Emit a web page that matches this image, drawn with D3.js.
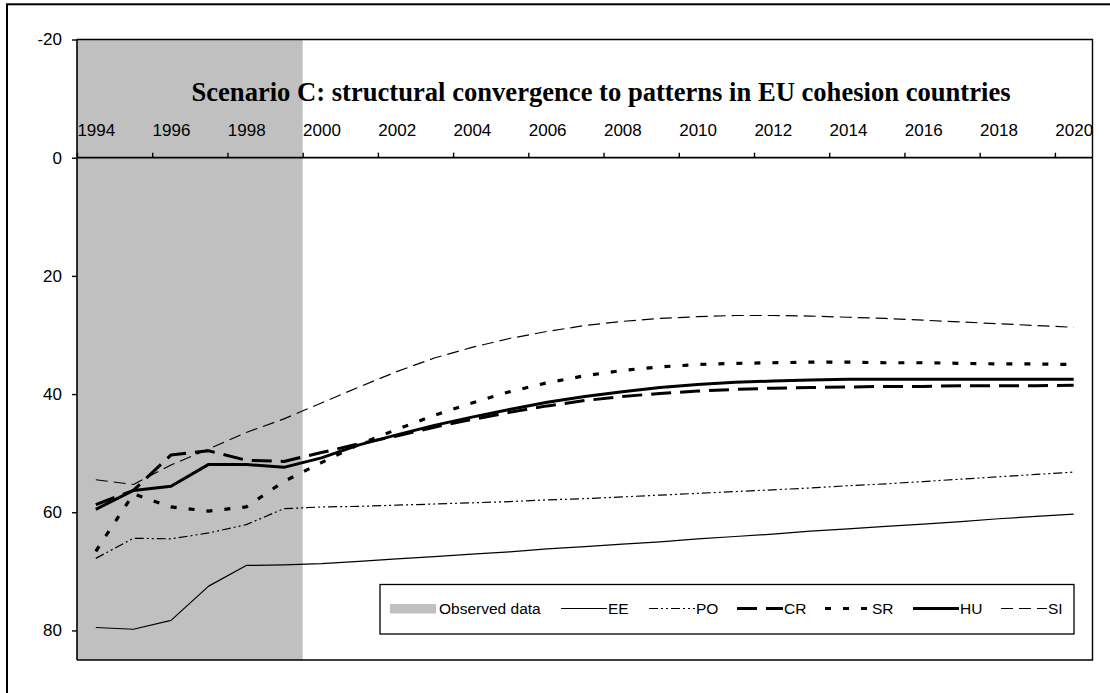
<!DOCTYPE html>
<html>
<head>
<meta charset="utf-8">
<script src="https://cdn.jsdelivr.net/npm/d3@7"></script>
<style>
  html, body { margin: 0; padding: 0; background: #fff; }
  svg { display: block; }
  text { font-family: "Liberation Sans", Arial, sans-serif; fill: #000; }
</style>
</head>
<body>
<svg id="chart" width="1110" height="693"></svg>
<script>
// ---------------- data ----------------
const years = d3.range(1994, 2021);
const observedYears = [1994, 1995, 1996, 1997, 1998, 1999];
const xTickYears = [1994, 1996, 1998, 2000, 2002, 2004, 2006, 2008, 2010, 2012, 2014, 2016, 2018, 2020];
const yTicks = [-20, 0, 20, 40, 60, 80];
const title = "Scenario C: structural convergence to patterns in EU cohesion countries";
const seriesNames = ["EE", "PO", "CR", "SR", "HU", "SI"];

const EE = [79.5, 79.8, 78.3, 72.5, 69.0, 68.9, 68.7, 68.3, 67.9, 67.5, 67.1, 66.7, 66.2, 65.8, 65.4, 65.0, 64.5, 64.1, 63.7, 63.2, 62.8, 62.4, 62.0, 61.6, 61.1, 60.7, 60.3];
const PO = [67.8, 64.4, 64.5, 63.5, 62.1, 59.4, 59.1, 59.0, 58.8, 58.6, 58.4, 58.2, 57.9, 57.7, 57.4, 57.1, 56.8, 56.5, 56.2, 55.9, 55.5, 55.2, 54.8, 54.4, 54.0, 53.6, 53.2];
const CR = [58.7, 56.3, 50.3, 49.6, 51.2, 51.4, 49.9, 48.4, 47.1, 45.6, 44.3, 43.1, 42.0, 41.1, 40.4, 39.9, 39.5, 39.2, 39.0, 38.9, 38.8, 38.7, 38.7, 38.6, 38.6, 38.6, 38.5];
const SR = [66.6, 56.9, 59.1, 59.8, 59.1, 54.8, 51.6, 48.5, 46.0, 43.6, 41.5, 39.6, 38.1, 36.9, 36.0, 35.4, 35.0, 34.8, 34.7, 34.6, 34.6, 34.7, 34.7, 34.8, 34.9, 34.9, 35.0];
const HU = [59.5, 56.3, 55.6, 51.9, 51.9, 52.4, 50.8, 48.6, 46.9, 45.3, 43.9, 42.6, 41.4, 40.4, 39.6, 38.9, 38.4, 38.0, 37.8, 37.6, 37.5, 37.5, 37.5, 37.5, 37.5, 37.5, 37.5];
const SI = [54.5, 55.3, 52.0, 49.3, 46.5, 44.2, 41.5, 38.8, 36.2, 33.9, 32.1, 30.6, 29.4, 28.4, 27.7, 27.2, 26.9, 26.7, 26.7, 26.8, 27.0, 27.2, 27.5, 27.8, 28.1, 28.4, 28.7];

const seriesValues = [EE, PO, CR, SR, HU, SI];

// ---------------- styles ----------------
const styles = {
  EE: { w: 1.2, dash: null },
  PO: { w: 1.2, dash: "9,3,2,3,2,3" },
  CR: { w: 3, dash: "20,9" },
  SR: { w: 3.2, dash: "6,12" },
  HU: { w: 3, dash: null },
  SI: { w: 1.2, dash: "12,6" }
};

// ---------------- layout ----------------
const svg = d3.select("#chart");
const plot = { left: 77, right: 1092.5, top: 39.5, bottom: 660 };

const x = d3.scaleLinear().domain([years[0], years[years.length - 1] + 1]).range([plot.left, plot.right]);
const xc = yr => x(yr + 0.5);
const y = d3.scaleLinear().domain([-20, 85]).range([plot.top, plot.bottom]);

// outer frame
svg.append("rect").attr("x", 7).attr("y", 4.3).attr("width", 1200).attr("height", 800)
  .attr("fill", "none").attr("stroke", "#000").attr("stroke-width", 2);

// observed-data band (one block covering the observed years)
const obsExtent = d3.extent(observedYears);
svg.append("rect")
  .datum(obsExtent)
  .attr("x", d => x(d[0]))
  .attr("width", d => x(d[1] + 1) - x(d[0]))
  .attr("y", y(-20))
  .attr("height", y(85) - y(-20))
  .attr("fill", "#c0c0c0");

// plot-area border (top, right, bottom)
svg.append("path")
  .attr("d", `M${plot.left},${y(-20)}H${plot.right}V${y(85)}H${plot.left}`)
  .attr("fill", "none").attr("stroke", "#000").attr("stroke-width", 1.4);

// title
svg.append("text")
  .attr("x", 601).attr("y", 101)
  .attr("text-anchor", "middle")
  .style("font-family", "'Liberation Serif', 'Times New Roman', serif")
  .style("font-weight", "bold")
  .style("font-size", "26.6px")
  .text(title);

// y axis
const yAxis = svg.append("g").attr("transform", `translate(${plot.left},0)`)
  .call(d3.axisLeft(y).tickValues(yTicks).tickSize(5).tickPadding(10).tickFormat(d => String(d)));
yAxis.select(".domain").attr("d", `M0,${y(-20)}V${y(85)}`).attr("stroke-width", 1.6);
yAxis.selectAll(".tick line").attr("stroke-width", 1.4);
yAxis.selectAll("text").style("font-size", "17px")
  .style("font-family", "'Liberation Sans', Arial, sans-serif");

// x axis at y = 0 (ticks upward, labels above)
const xAxisG = svg.append("g").attr("transform", `translate(0,${y(0)})`);
xAxisG.call(d3.axisTop(x).tickValues(xTickYears).tickSize(5).tickFormat(""));
xAxisG.select(".domain").attr("d", `M${plot.left},0H${plot.right}`).attr("stroke-width", 1.8);
xAxisG.selectAll(".tick line").attr("stroke-width", 1.4);

const xLabels = svg.append("g").attr("transform", `translate(0,${y(0)})`)
  .call(d3.axisTop(x).tickValues(xTickYears.map(d => d + 0.5)).tickSize(0).tickPadding(22)
    .tickFormat(d => String(Math.floor(d))));
xLabels.select(".domain").remove();
xLabels.selectAll("text").style("font-size", "17px")
  .style("font-family", "'Liberation Sans', Arial, sans-serif");

// lines
const line = d3.line().x((d, i) => xc(years[i])).y(d => y(d));
seriesNames.forEach((name, k) => {
  const st = styles[name];
  svg.append("path")
    .datum(seriesValues[k])
    .attr("d", line)
    .attr("fill", "none")
    .attr("stroke", "#000")
    .attr("stroke-width", st.w)
    .attr("stroke-linejoin", "round")
    .attr("stroke-dasharray", st.dash);
});

// legend
const lg = svg.append("g");
lg.append("rect").attr("x", 380).attr("y", 584.5).attr("width", 694).attr("height", 49.5)
  .attr("fill", "#fff").attr("stroke", "#000").attr("stroke-width", 1.3);
const ly = 608.5;
lg.append("rect").attr("x", 390).attr("y", 604).attr("width", 46).attr("height", 9.5).attr("fill", "#c0c0c0");
lg.append("text").attr("x", 439).attr("y", 614).style("font-size", "15.5px").text("Observed data");
seriesNames.forEach((name, k) => {
  const st = styles[name];
  const sx = 561 + k * 88;
  lg.append("line").attr("x1", sx).attr("x2", sx + 46).attr("y1", ly).attr("y2", ly)
    .attr("stroke", "#000").attr("stroke-width", st.w).attr("stroke-dasharray", st.dash);
  lg.append("text").attr("x", sx + 47).attr("y", 614).style("font-size", "15.5px").text(name);
});
</script>
</body>
</html>
